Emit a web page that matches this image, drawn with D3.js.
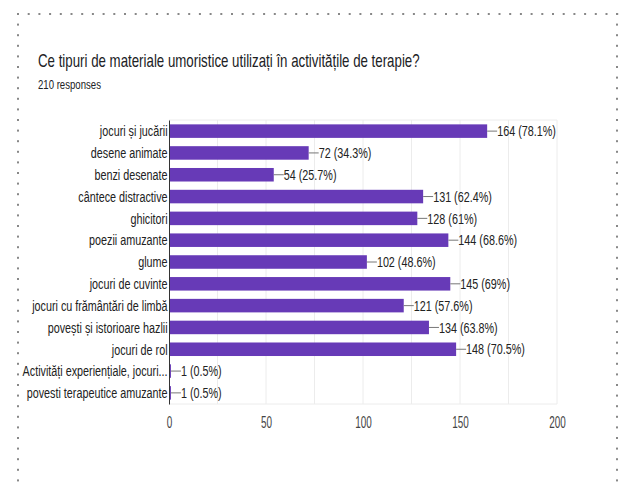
<!DOCTYPE html>
<html>
<head>
<meta charset="utf-8">
<script src="https://cdn.jsdelivr.net/npm/d3@7"></script>
<style>
  body { margin: 0; background: #fff; }
  text { font-family: "Liberation Sans", Arial, sans-serif; }
</style>
</head>
<body>
<div id="chart"></div>
<script>
const categories = ["jocuri și jucării", "desene animate", "benzi desenate", "cântece distractive",
  "ghicitori", "poezii amuzante", "glume", "jocuri de cuvinte", "jocuri cu frământări de limbă",
  "povești și istorioare hazlii", "jocuri de rol", "Activități experiențiale, jocuri...",
  "povesti terapeutice amuzante"]
const counts = [164, 72, 54, 131, 128, 144, 102, 145, 121, 134, 148, 1, 1]
const percents = ["78.1", "34.3", "25.7", "62.4", "61", "68.6", "48.6", "69", "57.6", "63.8", "70.5", "0.5", "0.5"]
const xTicks = [0, 50, 100, 150, 200]

const width = 620
const height = 484
const sx = 0.72 // the reference text is squeezed sideways

const svg = d3.select("#chart").append("svg")
    .attr("width", width)
    .attr("height", height)

// dotted frame
const dotsTop = d3.range(18, 620, 10.7)
const dotsSide = d3.range(14, 484, 10.6)
svg.selectAll(".dt").data(dotsTop).enter().append("rect")
    .attr("x", d => d - 1).attr("y", 13).attr("width", 2).attr("height", 2).attr("fill", "#888")
svg.selectAll(".dl").data(dotsSide).enter().append("rect")
    .attr("x", 17).attr("y", d => d - 1).attr("width", 2).attr("height", 2).attr("fill", "#888")
svg.selectAll(".dr").data(dotsSide).enter().append("rect")
    .attr("x", 616).attr("y", d => d - 1).attr("width", 2).attr("height", 2).attr("fill", "#888")

svg.append("text")
    .attr("transform", `translate(38,67) scale(0.7,1)`)
    .attr("font-size", 19).attr("fill", "#202124")
    .text("Ce tipuri de materiale umoristice utilizați în activitățile de terapie?")

svg.append("text")
    .attr("transform", `translate(38,89) scale(0.8,1)`)
    .attr("font-size", 12).attr("fill", "#202124")
    .text("210 responses")

const pLeft = 169, pRight = 557, pTop = 120, pBottom = 404

const x = d3.scaleLinear().domain([0, 200]).range([pLeft, pRight])
const y = d3.scaleBand().domain(categories).range([pTop, pBottom]).paddingInner(0.38).paddingOuter(0.2)

const g = svg.append("g")

// grid
g.selectAll(".grid").data(d3.range(25, 201, 25)).enter().append("line")
    .attr("x1", d => x(d)).attr("x2", d => x(d))
    .attr("y1", pTop).attr("y2", pBottom)
    .attr("stroke", "#ececec")
g.append("line").attr("x1", pLeft).attr("x2", pRight).attr("y1", pTop).attr("y2", pTop).attr("stroke", "#ececec")
g.append("line").attr("x1", pLeft).attr("x2", pRight).attr("y1", pBottom).attr("y2", pBottom).attr("stroke", "#ececec")

// bars
g.selectAll(".bar").data(counts).enter().append("rect")
    .attr("x", x(0))
    .attr("y", (d, i) => y(categories[i]))
    .attr("width", d => x(d) - x(0))
    .attr("height", y.bandwidth())
    .attr("fill", "#673ab7")

// connectors and value labels
g.selectAll(".conn").data(counts).enter().append("line")
    .attr("x1", d => x(d)).attr("x2", d => x(d) + 10)
    .attr("y1", (d, i) => y(categories[i]) + y.bandwidth() / 2)
    .attr("y2", (d, i) => y(categories[i]) + y.bandwidth() / 2)
    .attr("stroke", "#777")
g.selectAll(".val").data(counts).enter().append("text")
    .attr("transform", (d, i) => `translate(${x(d) + 10},${y(categories[i]) + y.bandwidth() / 2 + 5.2}) scale(${sx},1)`)
    .attr("font-size", 15).attr("fill", "#222")
    .text((d, i) => `${d} (${percents[i]}%)`)

// y axis
const yAxis = g.append("g").attr("transform", `translate(${pLeft},0)`)
    .call(d3.axisLeft(y).tickSize(0).tickPadding(0))
yAxis.select(".domain").attr("stroke", "#333")
yAxis.selectAll("text")
    .attr("font-family", "Liberation Sans, Arial, sans-serif")
    .attr("font-size", 15).attr("fill", "#222")
    .attr("x", -2).attr("dy", "0.35em")
    .attr("transform", `scale(${sx},1)`)

// x axis
const xAxis = g.append("g").attr("transform", `translate(0,${pBottom})`)
    .call(d3.axisBottom(x).tickValues(xTicks).tickSize(0).tickPadding(13))
xAxis.select(".domain").remove()
xAxis.selectAll("text")
    .attr("font-family", "Liberation Sans, Arial, sans-serif")
    .attr("font-size", 16).attr("fill", "#444")
    .attr("transform", `scale(0.62,1)`)
</script>
</body>
</html>
